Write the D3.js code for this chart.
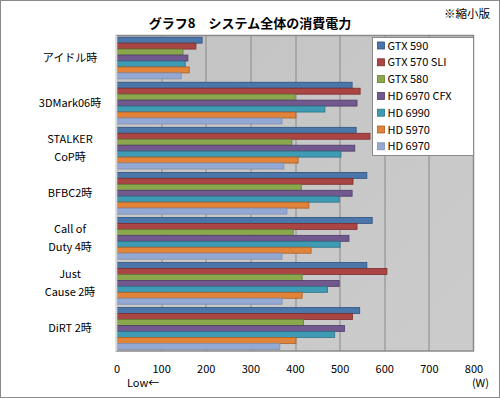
<!DOCTYPE html>
<html>
<head>
<meta charset="utf-8">
<script src="https://cdn.jsdelivr.net/npm/d3@7"></script>
<style>
  html, body { margin: 0; padding: 0; background: #fff; }
  svg { display: block; }
  text { font-family: "Noto Sans CJK JP", "Noto Sans", sans-serif; fill: #000; }
</style>
</head>
<body>
<div id="chart"></div>
<script>
const categories = [
    ["アイドル時"],
    ["3DMark06時"],
    ["STALKER", "CoP時"],
    ["BFBC2時"],
    ["Call of", "Duty 4時"],
    ["Just", "Cause 2時"],
    ["DiRT 2時"]
];
const seriesNames = ["GTX 590", "GTX 570 SLI", "GTX 580", "HD 6970 CFX", "HD 6990", "HD 5970", "HD 6970"];
const gtx590 = [192, 528, 537, 561, 573, 561, 545];
const gtx570sli = [178, 546, 568, 530, 539, 606, 529];
const gtx580 = [149, 400, 393, 414, 396, 416, 419];
const hd6970cfx = [160, 539, 534, 528, 521, 499, 511];
const hd6990 = [154, 467, 503, 499, 501, 473, 489];
const hd5970 = [163, 402, 407, 431, 436, 416, 402];
const hd6970 = [145, 371, 375, 382, 371, 371, 366];
const xTicks = [0, 100, 200, 300, 400, 500, 600, 700, 800];

const seriesValues = [gtx590, gtx570sli, gtx580, hd6970cfx, hd6990, hd5970, hd6970];
const fills = ["#4a76a9", "#a94543", "#8aa74e", "#71598f", "#3f9bb3", "#e1843a", "#93a9d3"];
const strokes = ["#2f5180", "#7c2e2c", "#627a36", "#4f3d68", "#2b7184", "#a85f26", "#7f8fb0"];

const W = 500, H = 398;
const MARGIN = {top: 35.5, left: 116.5, right: 26.5, bottom: 47};
const width = W - MARGIN.left - MARGIN.right;
const height = H - MARGIN.top - MARGIN.bottom;

const svg = d3.select("#chart").append("svg")
    .attr("width", W)
    .attr("height", H);

const defs = svg.append("defs");
const grad = defs.append("linearGradient")
    .attr("id", "bg")
    .attr("x1", "0").attr("y1", "0").attr("x2", "1").attr("y2", "1");
grad.append("stop").attr("offset", "0").attr("stop-color", "#c3c3c3");
grad.append("stop").attr("offset", "1").attr("stop-color", "#cccccc");

// outer frame
svg.append("rect")
    .attr("x", 0.5).attr("y", 0.5)
    .attr("width", W - 1).attr("height", H - 1)
    .attr("fill", "#fff")
    .attr("stroke", "#8a8a8a");

svg.append("text")
    .attr("x", 250)
    .attr("y", 28)
    .attr("text-anchor", "middle")
    .attr("font-size", 13)
    .attr("font-weight", "bold")
    .text("グラフ8　システム全体の消費電力");

svg.append("text")
    .attr("x", 490)
    .attr("y", 18)
    .attr("text-anchor", "end")
    .attr("font-size", 11.5)
    .text("※縮小版");

const g = svg.append("g")
    .attr("transform", "translate(" + MARGIN.left + "," + MARGIN.top + ")");

const x = d3.scaleLinear()
    .domain([0, 800])
    .range([0, width]);

const y = d3.scaleBand()
    .domain(d3.range(categories.length))
    .range([0, height])
    .paddingInner(0.075)
    .paddingOuter(0.0375);

const ySeries = d3.scaleBand()
    .domain(d3.range(seriesNames.length))
    .range([0, y.bandwidth()]);

g.append("rect")
    .attr("width", width)
    .attr("height", height)
    .attr("fill", "url(#bg)");

// grid
g.selectAll(".grid")
    .data(xTicks.slice(1, -1))
    .enter().append("line")
    .attr("class", "grid")
    .attr("x1", d => Math.round(x(d)) + 0.5)
    .attr("x2", d => Math.round(x(d)) + 0.5)
    .attr("y1", 0)
    .attr("y2", height)
    .attr("stroke", "#888")
    .attr("stroke-width", 1);

// bars
seriesValues.forEach((vals, s) => {
    g.selectAll(".bar-" + s)
        .data(vals)
        .enter().append("rect")
        .attr("x", 0)
        .attr("y", (d, i) => y(i) + ySeries(s))
        .attr("width", d => x(d))
        .attr("height", ySeries.bandwidth())
        .attr("fill", fills[s])
        .attr("stroke", strokes[s])
        .attr("stroke-width", 0.8);
});

// plot frame
g.append("rect")
    .attr("width", width)
    .attr("height", height)
    .attr("fill", "none")
    .attr("stroke", "#8a8a8a")
    .attr("stroke-width", 1.5);
g.append("line")
    .attr("x1", 0).attr("x2", 0)
    .attr("y1", 0).attr("y2", height)
    .attr("stroke", "#d8d8d8")
    .attr("stroke-width", 1.5);

// x axis labels
const xAxis = g.append("g")
    .attr("transform", "translate(0," + height + ")")
    .call(d3.axisBottom(x).tickValues(xTicks).tickSize(0).tickPadding(14));
xAxis.select(".domain").remove();
xAxis.selectAll("text")
    .attr("font-size", 11)
    .attr("font-family", "\"Noto Sans CJK JP\", sans-serif")
    .attr("fill", "#000");

svg.append("text")
    .attr("x", 127)
    .attr("y", 387)
    .attr("font-size", 11)
    .text("Low←");
svg.append("text")
    .attr("x", 489)
    .attr("y", 387)
    .attr("text-anchor", "end")
    .attr("font-size", 11)
    .text("(W)");

// category labels
categories.forEach((lines, i) => {
    const cy = y(i) + y.bandwidth() / 2;
    const t = svg.append("text")
        .attr("text-anchor", "middle")
        .attr("font-size", 11);
    lines.forEach((ln, j) => {
        t.append("tspan")
            .attr("x", 70)
            .attr("y", MARGIN.top + cy + 4 + (j - (lines.length - 1) / 2) * 18)
            .text(ln);
    });
});

// legend
const lg = svg.append("g").attr("transform", "translate(372.5,37.5)");
lg.append("rect")
    .attr("width", 101)
    .attr("height", 118)
    .attr("fill", "#fff")
    .attr("stroke", "#8a8a8a");
seriesNames.forEach((name, s) => {
    const row = lg.append("g").attr("transform", "translate(5," + (8 + s * 16.8) + ")");
    row.append("rect")
        .attr("x", 0).attr("y", -3.5)
        .attr("width", 7).attr("height", 7)
        .attr("fill", fills[s])
        .attr("stroke", strokes[s])
        .attr("stroke-width", 0.8);
    row.append("text")
        .attr("x", 10)
        .attr("y", 4)
        .attr("font-size", 11)
        .text(name);
});
</script>
</body>
</html>
